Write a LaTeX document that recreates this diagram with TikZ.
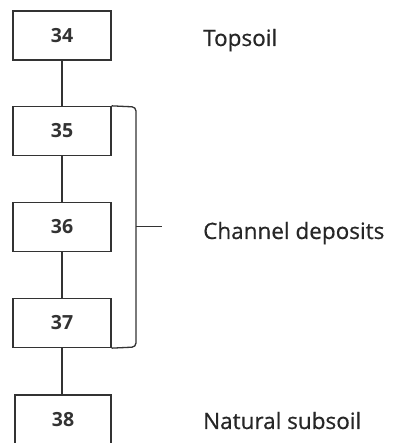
\documentclass[tikz,border=0pt]{standalone}
\usepackage{fontspec}
\setmainfont{Open Sans}
\newfontfamily\lblfont{Open Sans}[FakeBold=0.6]
\begin{document}
\begin{tikzpicture}[x=1pt,y=1pt,
  layer/.style={draw=black!80, line width=1.3pt, minimum width=98pt, minimum height=49pt, inner sep=0pt, font=\fontsize{19.5}{22}\selectfont\bfseries, text=black!80},
  lbl/.style={anchor=base west, inner sep=0pt, font=\lblfont\fontsize{22.5}{26}\selectfont, text=black!85},
  link/.style={draw=black!80, line width=1.3pt}]
\useasboundingbox (0,0) rectangle (393,443);
\begin{scope}
\clip (0,0) rectangle (393,443);
\node[layer] (b34) at (62,407.5) {34};
\node[layer] (b35) at (62,312) {35};
\node[layer] (b36) at (62,216) {36};
\node[layer] (b37) at (62,120) {37};
\node[layer, minimum width=96pt] (b38) at (63,23.5) {38};
\end{scope}
\draw[link] (b34) -- (b35);
\draw[link] (b35) -- (b36);
\draw[link] (b36) -- (b37);
\draw[link] (b37.south) -- (b37.south |- b38.north);
\coordinate (bt) at (136,336);
\coordinate (bb) at (136,96);
\coordinate (bm) at (136,216.5);
\coordinate (tip) at (162,216.5);
\draw[link, rounded corners=4pt] (b35.north east) -- (bt) -- (bb) -- (b37.south east);
\draw[link] (bm) .. controls (140,216.5) .. (144,216.5) -- (tip);
\node[lbl] (t34) at (203,397) {Topsoil};
\node[lbl] (tcd) at (203,204) {Channel deposits};
\node[lbl] (t38) at (203,14) {Natural subsoil};
\end{tikzpicture}
\end{document}
